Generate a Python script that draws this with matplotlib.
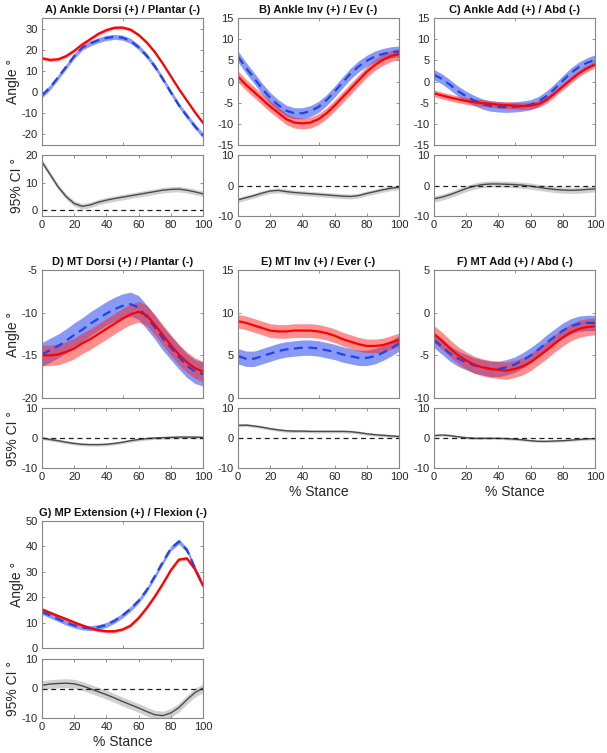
import numpy as np
import matplotlib
matplotlib.use("Agg")
import matplotlib.pyplot as plt

plt.rcParams['font.family'] = ['Liberation Sans', 'DejaVu Sans']
plt.rcParams['axes.unicode_minus'] = False

stance = [0, 5, 10, 15, 20, 25, 30, 35, 40, 45, 50, 55, 60, 65, 70, 75, 80, 85, 90, 95, 100]

# A) ankle dorsi/plantar
a_blue = [-1.5, 2.2, 7.0, 12.0, 17.0, 21.0, 23.0, 24.5, 25.6, 26.1, 25.7, 24.2, 21.2, 17.2, 12.2, 6.2, -0.1, -6.2, -11.3, -16.2, -20.5]
a_red = [16.0, 15.2, 15.5, 17.0, 19.5, 22.5, 25.0, 27.5, 29.3, 30.4, 30.5, 29.5, 27.0, 23.5, 19.0, 13.5, 7.5, 1.5, -4.0, -9.5, -14.5]
a_ci = [17.5, 13.0, 8.5, 5.0, 2.5, 1.5, 2.0, 3.0, 3.7, 4.3, 4.8, 5.3, 5.8, 6.3, 6.8, 7.3, 7.6, 7.7, 7.3, 6.7, 6.0]

# B) ankle inv/ev
b_blue = [5.9, 3.2, 0.8, -1.7, -3.9, -5.6, -6.9, -7.5, -7.5, -7.0, -6.0, -4.4, -2.4, -0.2, 1.9, 3.6, 4.9, 5.9, 6.5, 6.9, 7.1]
b_red = [1.2, -0.8, -2.5, -4.2, -5.9, -7.4, -8.9, -9.7, -9.9, -9.7, -8.9, -7.5, -5.7, -3.7, -1.7, 0.3, 2.3, 3.9, 5.1, 6.0, 6.5]
b_ci = [-4.7, -4.0, -3.3, -2.5, -1.8, -1.6, -2.0, -2.3, -2.5, -2.7, -2.9, -3.1, -3.3, -3.5, -3.6, -3.3, -2.6, -2.0, -1.4, -0.9, -0.6]

# C) ankle add/abd
c_blue = [1.6, 0.6, -0.8, -2.3, -3.5, -4.5, -5.3, -5.8, -6.0, -6.1, -6.0, -5.8, -5.5, -4.7, -3.4, -1.7, 0.2, 2.0, 3.4, 4.4, 5.1]
c_red = [-2.8, -3.3, -3.8, -4.2, -4.6, -4.9, -5.1, -5.3, -5.5, -5.6, -5.7, -5.8, -5.7, -5.3, -4.3, -2.8, -1.2, 0.4, 1.9, 3.1, 4.0]
c_ci = [-4.4, -3.8, -3.0, -2.0, -1.0, -0.2, 0.3, 0.5, 0.5, 0.4, 0.3, 0.1, -0.2, -0.6, -1.0, -1.3, -1.5, -1.6, -1.5, -1.3, -1.1]

# D) MT dorsi/plantar
d_blue = [-14.9, -14.4, -13.9, -13.3, -12.6, -12.0, -11.3, -10.7, -10.1, -9.6, -9.2, -9.0, -9.4, -10.5, -11.7, -13.0, -14.1, -15.2, -16.2, -16.9, -17.2]
d_red = [-15.0, -15.0, -14.9, -14.6, -14.2, -13.6, -13.1, -12.5, -11.9, -11.3, -10.7, -10.2, -9.9, -10.3, -11.4, -12.6, -13.8, -14.9, -15.8, -16.5, -16.9]
d_ci = [0.0, -0.5, -0.9, -1.4, -1.8, -2.1, -2.2, -2.2, -2.1, -1.8, -1.4, -0.9, -0.5, -0.2, 0.0, 0.1, 0.2, 0.3, 0.3, 0.3, 0.2]

# E) MT inv/ever
e_blue = [4.9, 4.6, 4.6, 4.9, 5.2, 5.5, 5.7, 5.8, 5.9, 5.9, 5.8, 5.6, 5.4, 5.1, 4.9, 4.7, 4.7, 4.9, 5.3, 5.8, 6.4]
e_red = [9.0, 8.8, 8.5, 8.2, 7.9, 7.8, 7.8, 7.9, 7.9, 7.9, 7.8, 7.6, 7.3, 6.9, 6.6, 6.3, 6.1, 6.1, 6.2, 6.5, 6.8]
e_ci = [4.2, 4.3, 4.0, 3.6, 3.1, 2.7, 2.4, 2.3, 2.3, 2.2, 2.2, 2.2, 2.2, 2.2, 2.1, 1.8, 1.4, 1.1, 0.9, 0.7, 0.5]

# F) MT add/abd
f_blue = [-3.2, -4.0, -4.8, -5.4, -5.8, -6.2, -6.4, -6.6, -6.6, -6.4, -6.1, -5.6, -5.0, -4.3, -3.5, -2.8, -2.1, -1.6, -1.3, -1.2, -1.2]
f_red = [-2.5, -3.3, -4.2, -5.0, -5.6, -6.1, -6.4, -6.6, -6.7, -6.8, -6.6, -6.3, -5.8, -5.1, -4.4, -3.6, -2.9, -2.3, -1.9, -1.7, -1.6]
f_ci = [0.8, 1.0, 0.8, 0.4, 0.1, -0.1, -0.1, -0.1, -0.1, -0.2, -0.4, -0.6, -0.9, -1.1, -1.1, -1.0, -0.9, -0.7, -0.5, -0.3, -0.2]

# G) MP extension/flexion
g_blue = [14.2, 12.8, 11.4, 10.0, 8.9, 8.1, 7.8, 8.2, 9.1, 10.7, 12.8, 15.4, 18.6, 22.8, 28.2, 33.8, 39.2, 41.9, 38.6, 31.5, 24.5]
g_red = [15.2, 13.9, 12.6, 11.4, 10.1, 8.9, 7.8, 7.0, 6.6, 6.6, 7.3, 8.8, 11.8, 15.7, 20.2, 25.2, 30.6, 34.8, 35.3, 31.0, 24.5]
g_ci = [1.1, 1.5, 1.7, 1.8, 1.6, 0.9, -0.1, -1.1, -2.1, -3.2, -4.4, -5.5, -6.6, -7.8, -8.9, -9.2, -8.3, -6.5, -3.8, -1.4, 0.1]

titles = ["A) Ankle Dorsi (+) / Plantar (-)", "B) Ankle Inv (+) / Ev (-)", "C) Ankle Add (+) / Abd (-)",
          "D) MT Dorsi (+) / Plantar (-)", "E) MT Inv (+) / Ever (-)", "F) MT Add (+) / Abd (-)",
          "G) MP Extension (+) / Flexion (-)"]
blues = [a_blue, b_blue, c_blue, d_blue, e_blue, f_blue, g_blue]
reds = [a_red, b_red, c_red, d_red, e_red, f_red, g_red]
cis = [a_ci, b_ci, c_ci, d_ci, e_ci, f_ci, g_ci]
# band half-widths (blue, red, ci)
blue_sd = [1.2, 1.3, 1.2, 1.4, 0.9, 0.9, 1.0]
red_sd = [0.7, 1.3, 0.8, 1.2, 0.8, 1.0, 0.6]
ci_sd = [1.0, 0.8, 1.0, 0.5, 0.5, 0.4, 1.5]
top_ylims = [(-25, 35), (-15, 15), (-15, 15), (-20, -5), (0, 15), (-10, 5), (0, 50)]
top_yticks = [[-20, -10, 0, 10, 20, 30], [-15, -10, -5, 0, 5, 10, 15], [-15, -10, -5, 0, 5, 10, 15],
              [-20, -15, -10, -5], [0, 5, 10, 15], [-10, -5, 0, 5], [0, 10, 20, 30, 40, 50]]
bot_ylims = [(-2, 20), (-10, 10), (-10, 10), (-10, 10), (-10, 10), (-10, 10), (-10, 10)]
bot_yticks = [[0, 10, 20], [-10, 0, 10], [-10, 0, 10], [-10, 0, 10], [-10, 0, 10], [-10, 0, 10], [-10, 0, 10]]

W, H = 607, 753
fig = plt.figure(figsize=(W / 100, H / 100), dpi=100)

lefts = [42, 238, 434]
rows = [(18, 145, 155, 216), (270, 398, 408, 468), (521, 648, 659, 718)]
spine_col = '#858585'


def px_axes(x0, y0, x1, y1):
    return fig.add_axes([x0 / W, 1 - y1 / H, (x1 - x0) / W, (y1 - y0) / H])


def style(ax):
    for s in ax.spines.values():
        s.set_color(spine_col)
        s.set_linewidth(0.8)
    ax.tick_params(direction='in', top=True, right=True, length=2.5, width=0.6,
                   color=spine_col, labelsize=8, labelcolor='#262626', pad=3)


x = np.array(stance)
for i in range(7):
    r, c = divmod(i, 3)
    x0 = lefts[c]
    t0, t1, b0, b1 = rows[r]
    ax = px_axes(x0, t0, x0 + 161, t1)
    bl = np.array(blues[i])
    rd = np.array(reds[i])
    ax.fill_between(x, bl - blue_sd[i], bl + blue_sd[i], color='#2845f0', alpha=0.55, lw=0)
    ax.plot(x, bl, color='#1f45e6', lw=1.6, ls=(0, (4, 2.5)))
    ax.fill_between(x, rd - red_sd[i], rd + red_sd[i], color='#ff2020', alpha=0.5, lw=0)
    ax.plot(x, rd, color='#ff0000', lw=1.6)
    ax.set_xlim(0, 100)
    ax.set_ylim(*top_ylims[i])
    ax.set_yticks(top_yticks[i])
    ax.set_xticks([0, 50, 100])
    ax.set_xticklabels([])
    style(ax)
    ax.set_title(titles[i], fontsize=8, fontweight='bold', pad=3.5, color='#111111')
    if c == 0:
        ax.set_ylabel('Angle °', fontsize=10, color='#262626', labelpad=1)

    bx = px_axes(x0, b0, x0 + 161, b1)
    ci = np.array(cis[i])
    bx.fill_between(x, ci - ci_sd[i], ci + ci_sd[i], color='#bdbdbd', alpha=0.7, lw=0)
    bx.plot(x, ci, color='#4a4a4a', lw=1.0)
    bx.axhline(0, color='#202020', lw=0.9, ls=(0, (4, 3)))
    bx.set_xlim(0, 100)
    bx.set_ylim(*bot_ylims[i])
    bx.set_yticks(bot_yticks[i])
    bx.set_xticks([0, 20, 40, 60, 80, 100])
    style(bx)
    if c == 0:
        bx.set_ylabel('95% CI °', fontsize=10, color='#262626', labelpad=1)
    if i >= 4:
        bx.set_xlabel('% Stance', fontsize=10, color='#262626', labelpad=2)

fig.savefig('out.png', dpi=100)
